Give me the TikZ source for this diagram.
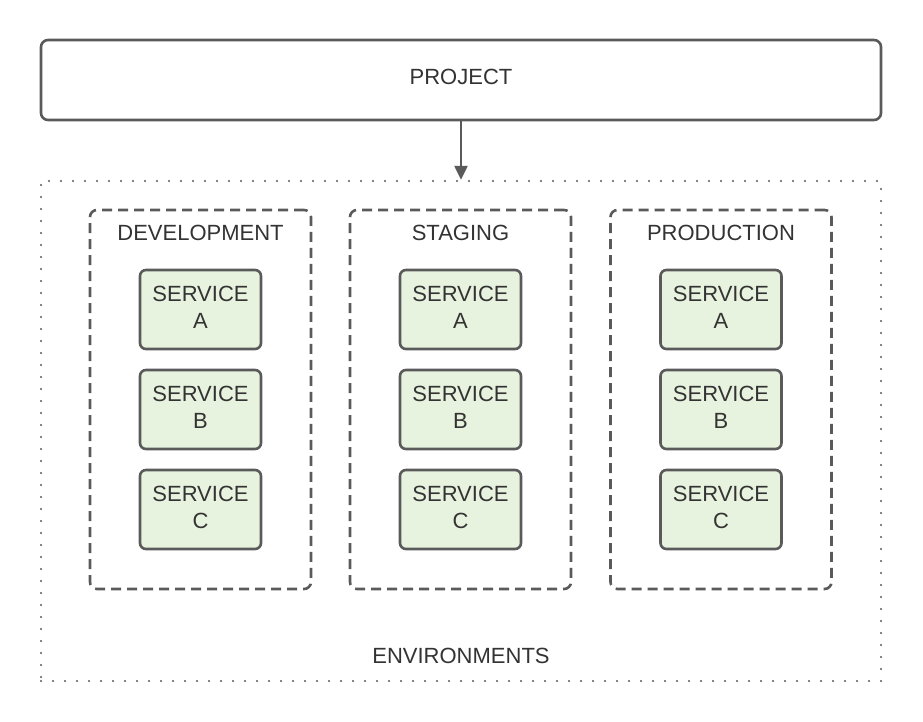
\documentclass[tikz,border=0pt]{standalone}
\usepackage{fontspec}
\setmainfont{Liberation Sans}
\usetikzlibrary{arrows.meta}
\definecolor{edge}{HTML}{5A5A5A}
\definecolor{txt}{HTML}{333333}
\definecolor{svc}{HTML}{E8F3DF}
\begin{document}
\begin{tikzpicture}[x=1pt,y=-1pt,
  lbl/.style={font=\fontsize{22}{26}\selectfont, text=txt, align=center},
  projbox/.style={draw=edge, line width=2.6pt, rounded corners=7pt, fill=white},
  envbox/.style={draw=edge, line width=2.6pt, rounded corners=7pt, dash pattern=on 10pt off 6pt},
  outerbox/.style={draw=edge, line width=2.3pt, line cap=round, dash pattern=on 0pt off 12pt},
  svcbox/.style={draw=edge, line width=2.6pt, rounded corners=6pt, fill=svc, minimum width=121pt, minimum height=79pt, inner sep=0pt}
]
\useasboundingbox (0,0) rectangle (923,722);
\node[projbox, minimum width=840pt, minimum height=80pt, inner sep=0pt] (project) at (461,80) {};
\node[lbl] (projlbl) at (461,77) {PROJECT};
\node[outerbox, minimum width=840pt, minimum height=500pt, inner sep=0pt] (envs) at (461,431) {};
\node[lbl] (envlbl) at (461,656) {ENVIRONMENTS};
\draw[edge, line width=2.2pt, -{Triangle[length=14pt,width=13pt]}] (project.south) -- (envs.north);
\foreach \n/\cx/\t in {dev/200.5/DEVELOPMENT, stg/460.5/STAGING, prd/721/PRODUCTION}{
  \node[envbox, minimum width=221pt, minimum height=379pt, inner sep=0pt] (\n) at (\cx,399.5) {};
  \node[lbl] (\n lbl) at (\cx,232.5) {\t};
  \node[svcbox] (\n A) at (\cx,309.5) {};
  \node[svcbox] (\n B) at (\cx,409.5) {};
  \node[svcbox] (\n C) at (\cx,509.5) {};
  \node[lbl, font=\fontsize{22}{27}\selectfont] (\n At) at (\cx,307) {SERVICE\\A};
  \node[lbl, font=\fontsize{22}{27}\selectfont] (\n Bt) at (\cx,407) {SERVICE\\B};
  \node[lbl, font=\fontsize{22}{27}\selectfont] (\n Ct) at (\cx,507) {SERVICE\\C};
}
\end{tikzpicture}
\end{document}
